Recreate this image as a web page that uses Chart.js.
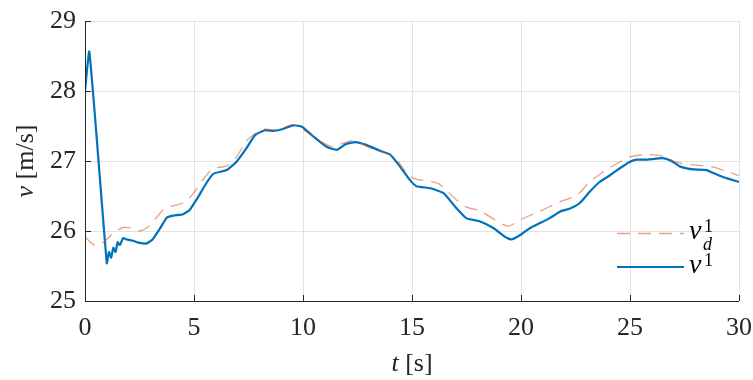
<!DOCTYPE html>
<html>
<head>
<meta charset="utf-8">
<script src="https://cdn.jsdelivr.net/npm/chart.js@4/dist/chart.umd.min.js"></script>
<style>
  html, body { margin: 0; padding: 0; background: #fff; }
  #wrap { width: 753px; height: 380px; }
</style>
</head>
<body>
<div id="wrap"><canvas id="speed"></canvas></div>
<script>
// time [s] and measured speed v^1 [m/s]
var tMeas = [0, 0.2, 1.0, 1.1, 1.2, 1.3, 1.4, 1.5, 1.6, 1.75, 1.9, 2.2, 2.5, 2.8, 3.1, 3.45, 3.75, 4.05, 4.5, 4.8,
  5.1, 5.6, 5.9, 6.5, 6.95, 7.4, 7.8, 8.25, 8.65, 9.0, 9.55, 9.95, 10.4, 11.1, 11.55, 11.95, 12.4, 12.9, 13.5, 14.0,
  14.45, 14.9, 15.2, 15.85, 16.45, 17.05, 17.5, 18.1, 18.75, 19.25, 19.55, 19.95, 20.4, 20.85, 21.3, 21.8, 22.25,
  22.7, 23.15, 23.6, 24.1, 24.55, 25.0, 25.3, 25.8, 26.5, 26.9, 27.3, 27.9, 28.5, 29.1, 30.0];
var vMeas = [28.00, 28.56, 25.54, 25.70, 25.62, 25.76, 25.70, 25.84, 25.80, 25.90, 25.88, 25.86, 25.83, 25.82, 25.88,
  26.04, 26.19, 26.22, 26.24, 26.30, 26.44, 26.70, 26.82, 26.87, 26.99, 27.18, 27.37, 27.44, 27.43, 27.45, 27.51,
  27.49, 27.37, 27.20, 27.16, 27.24, 27.27, 27.23, 27.15, 27.09, 26.92, 26.73, 26.64, 26.61, 26.54, 26.32, 26.18,
  26.14, 26.04, 25.92, 25.88, 25.94, 26.04, 26.11, 26.18, 26.28, 26.32, 26.40, 26.56, 26.70, 26.80, 26.90, 26.99,
  27.02, 27.02, 27.04, 27.00, 26.92, 26.88, 26.87, 26.79, 26.70];

// desired speed v_d^1
var tRef = [0, 0.25, 0.5, 0.9, 1.3, 1.75, 2.15, 2.5, 2.9, 3.3, 3.7, 4.2, 4.5, 4.9, 5.45, 5.9, 6.5, 6.95, 7.5, 8.2,
  8.7, 9.0, 9.55, 10.15, 10.8, 11.4, 11.8, 12.3, 13.2, 14.15, 14.9, 15.35, 15.85, 16.3, 17.05, 17.5, 18.1, 18.75,
  19.4, 19.95, 20.85, 21.8, 22.55, 23.15, 23.8, 24.55, 25.0, 25.8, 26.5, 27.15, 28.05, 28.7, 29.45, 30.0];
var vRef = [25.92, 25.84, 25.79, 25.85, 25.97, 26.05, 26.04, 26.00, 26.06, 26.20, 26.33, 26.37, 26.40, 26.51, 26.75,
  26.89, 26.93, 27.06, 27.32, 27.45, 27.44, 27.46, 27.52, 27.42, 27.28, 27.20, 27.25, 27.29, 27.17, 27.06, 26.78,
  26.73, 26.71, 26.66, 26.44, 26.34, 26.29, 26.17, 26.07, 26.16, 26.28, 26.42, 26.51, 26.70, 26.85, 26.99, 27.06,
  27.09, 27.07, 26.98, 26.94, 26.92, 26.85, 26.79];

var xTicks = [0, 5, 10, 15, 20, 25, 30];
var yTicks = [25, 26, 27, 28, 29];

var SERIF = '"Liberation Serif", "DejaVu Serif", serif';
var BLUE = '#0072BD';
var ORANGE = 'rgba(217, 83, 25, 0.55)';
var AXIS = '#262626';

function pts(xs, ys) {
  return xs.map(function (x, i) { return { x: x, y: ys[i] }; });
}

// mixed italic / upright text, left aligned at x
function mixed(ctx, parts, x, y, size) {
  parts.forEach(function (p) {
    ctx.font = (p[1] ? 'italic ' : '') + size + 'px ' + SERIF;
    ctx.fillText(p[0], x, y);
    x += ctx.measureText(p[0]).width;
  });
}
function mixedWidth(ctx, parts, size) {
  var w = 0;
  parts.forEach(function (p) {
    ctx.font = (p[1] ? 'italic ' : '') + size + 'px ' + SERIF;
    w += ctx.measureText(p[0]).width;
  });
  return w;
}

// axis lines, inward ticks, axis titles and legend (MATLAB look)
var decorations = {
  id: 'decorations',
  afterDraw: function (chart) {
    var ctx = chart.ctx, a = chart.chartArea;
    var xs = chart.scales.x, ys = chart.scales.y;
    ctx.save();
    ctx.strokeStyle = AXIS;
    ctx.lineWidth = 1;
    ctx.beginPath();
    ctx.moveTo(a.left + 0.5, a.top);
    ctx.lineTo(a.left + 0.5, a.bottom + 0.5);
    ctx.lineTo(a.right, a.bottom + 0.5);
    xTicks.forEach(function (t) {
      var px = Math.round(xs.getPixelForValue(t)) + 0.5;
      ctx.moveTo(px, a.bottom);
      ctx.lineTo(px, a.bottom - 6);
    });
    yTicks.forEach(function (v) {
      var py = Math.round(ys.getPixelForValue(v)) + 0.5;
      ctx.moveTo(a.left, py);
      ctx.lineTo(a.left + 6, py);
    });
    ctx.stroke();

    ctx.fillStyle = AXIS;
    ctx.textBaseline = 'alphabetic';
    // x title: t [s]
    var xt = [['t', true], [' [s]', false]];
    mixed(ctx, xt, (a.left + a.right) / 2 - mixedWidth(ctx, xt, 26) / 2, 371, 26);

    // y title: v [m/s]
    var yt = [['v', true], [' [m/s]', false]];
    ctx.save();
    ctx.translate(33, (a.top + a.bottom) / 2);
    ctx.rotate(-Math.PI / 2);
    mixed(ctx, yt, -mixedWidth(ctx, yt, 26) / 2, 0, 26);
    ctx.restore();

    // legend
    ctx.lineWidth = 1.3;
    ctx.strokeStyle = ORANGE;
    ctx.setLineDash([13, 8]);
    ctx.beginPath();
    ctx.moveTo(617, 233.5);
    ctx.lineTo(684, 233.5);
    ctx.stroke();
    ctx.setLineDash([]);
    ctx.lineWidth = 2;
    ctx.strokeStyle = BLUE;
    ctx.beginPath();
    ctx.moveTo(617, 267);
    ctx.lineTo(684, 267);
    ctx.stroke();

    ctx.fillStyle = '#000';
    ctx.font = 'italic 28px ' + SERIF;
    ctx.fillText('v', 689, 239);
    ctx.fillText('v', 689, 273);
    ctx.font = '18px ' + SERIF;
    ctx.fillText('1', 704, 232);
    ctx.fillText('1', 704, 266);
    ctx.font = 'italic 18px ' + SERIF;
    ctx.fillText('d', 703, 250);
    ctx.restore();
  }
};

var config = {
  type: 'line',
  data: {
    datasets: [{
      label: 'v_d^1',
      data: pts(tRef, vRef),
      borderColor: ORANGE,
      borderWidth: 1.3,
      borderDash: [13, 8],
      pointRadius: 0,
      tension: 0.3,
      fill: false
    }, {
      label: 'v^1',
      data: pts(tMeas, vMeas),
      borderColor: BLUE,
      borderWidth: 2.2,
      pointRadius: 0,
      tension: 0.15,
      fill: false
    }]
  },
  options: {
    responsive: true,
    maintainAspectRatio: false,
    animation: false,
    layout: { padding: { top: 21, right: 0, left: 0, bottom: 0 } },
    plugins: { legend: { display: false }, tooltip: { enabled: false } },
    scales: {
      x: {
        type: 'linear',
        min: 0, max: 30,
        afterBuildTicks: function (s) { s.ticks = xTicks.map(function (v) { return { value: v }; }); },
        afterFit: function (s) { s.height = 79; s.paddingRight = 14; s.paddingLeft = 0; },
        grid: { color: '#e3e3e3', drawTicks: false },
        border: { display: false },
        ticks: { color: AXIS, font: { family: SERIF, size: 26 }, padding: 12, maxRotation: 0 }
      },
      y: {
        min: 25, max: 29,
        afterBuildTicks: function (s) { s.ticks = yTicks.map(function (v) { return { value: v }; }); },
        afterFit: function (s) { s.width = 85; s.paddingTop = 0; s.paddingBottom = 0; },
        grid: { color: '#e3e3e3', drawTicks: false },
        border: { display: false },
        ticks: { color: AXIS, font: { family: SERIF, size: 26 }, padding: 9 }
      }
    }
  },
  plugins: [decorations]
};

var speedChart = new Chart(document.getElementById('speed'), config);
</script>
</body>
</html>
